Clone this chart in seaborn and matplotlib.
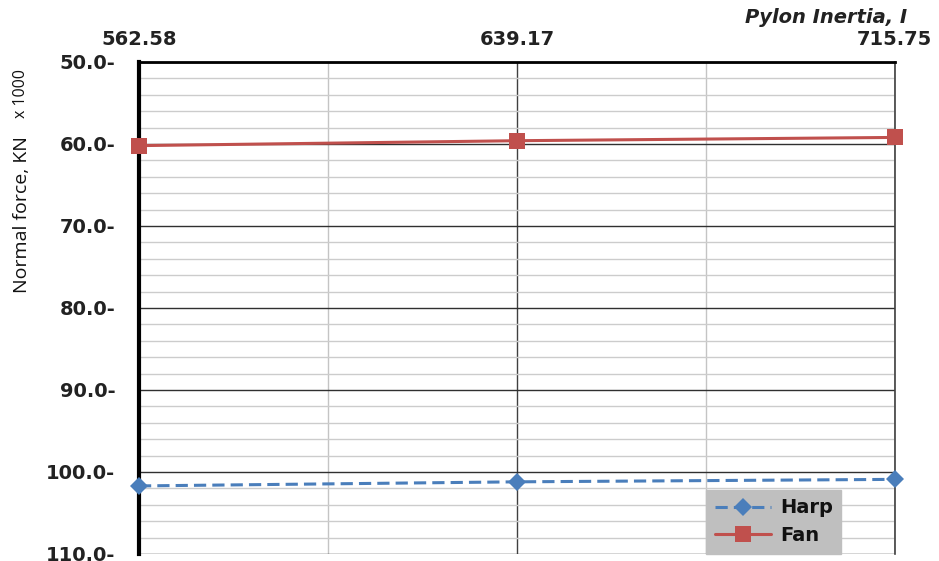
import numpy as np
import pandas as pd
import seaborn as sns
import matplotlib.pyplot as plt
from matplotlib.ticker import FixedLocator, MultipleLocator, FuncFormatter

# values (normal force in kN x1000)
inertia = [562.58, 639.17, 715.75]
harp = [101.7, 101.2, 100.9]
fan = [60.2, 59.6, 59.2]

harp_df = pd.DataFrame({'inertia': inertia, 'force': harp})
fan_df = pd.DataFrame({'inertia': inertia, 'force': fan})

sns.set_style('white')
plt.rcParams['font.family'] = ['DejaVu Sans']

fig = plt.figure(figsize=(9.39, 5.61), dpi=100)
ax = fig.add_axes([0.148, 0.0125, 0.805, 0.877])

sns.lineplot(data=harp_df, x='inertia', y='force', color='#4a7ebb', marker='D',
             markersize=9, markeredgewidth=0, linewidth=2.2,
             label='Harp', ax=ax, zorder=5, clip_on=False)
sns.lineplot(data=fan_df, x='inertia', y='force', color='#c0504d', marker='s',
             markersize=11, markeredgewidth=0, linewidth=2.2,
             label='Fan', ax=ax, zorder=5, clip_on=False)
ax.lines[0].set_linestyle((0, (4, 2)))

ax.set_xlim(inertia[0], inertia[-1])
ax.set_ylim(110, 50)

# x axis on top
ax.xaxis.tick_top()
ax.xaxis.set_label_position('top')
ax.xaxis.set_major_locator(FixedLocator(inertia))
ax.xaxis.set_minor_locator(FixedLocator([(inertia[0] + inertia[1]) / 2,
                                         (inertia[1] + inertia[2]) / 2]))
ax.xaxis.set_major_formatter(FuncFormatter(lambda v, p: f'{v:.2f}'))
ax.tick_params(axis='x', which='both', length=0, pad=9, labelsize=14)
for t in ax.get_xticklabels():
    t.set_fontweight('bold')
    t.set_color('#222222')

ax.yaxis.set_major_locator(MultipleLocator(10))
ax.yaxis.set_minor_locator(MultipleLocator(2))
ax.yaxis.set_major_formatter(FuncFormatter(lambda v, p: f'{v:.1f}-'))
ax.tick_params(axis='y', which='major', length=0, pad=17, labelsize=14)
ax.tick_params(axis='y', which='minor', direction='in', length=6, width=2, color='black')
for t in ax.get_yticklabels():
    t.set_fontweight('bold')
    t.set_color('#222222')

ax.grid(which='minor', axis='y', color='#cccccc', linewidth=1)
ax.grid(which='major', axis='y', color='#303030', linewidth=1)
ax.grid(which='minor', axis='x', color='#c4c4c4', linewidth=1)
ax.grid(which='major', axis='x', color='#404040', linewidth=1)

ax.spines['left'].set_linewidth(3)
ax.spines['left'].set_color('black')
ax.spines['top'].set_linewidth(2)
ax.spines['top'].set_color('black')
ax.spines['right'].set_linewidth(1.2)
ax.spines['right'].set_color('#404040')
ax.spines['bottom'].set_visible(False)

ax.set_xlabel('')
ax.set_ylabel('')
fig.text(0.966, 0.968, 'Pylon Inertia, I', ha='right', va='center',
         fontsize=14, fontstyle='italic', fontweight='bold', color='#222222')
fig.text(0.023, 0.617, 'Normal force, KN', rotation=90, ha='center', va='center',
         fontsize=14, color='#111111', family=['Open Sans', 'DejaVu Sans'])
fig.text(0.022, 0.834, 'x 1000', rotation=90, ha='center', va='center',
         fontsize=11.5, color='#111111', family=['Open Sans', 'DejaVu Sans'])

leg = ax.legend(loc='lower left', bbox_to_anchor=(0.75, 0.0), borderaxespad=0,
                frameon=True, fontsize=14, handlelength=2.9, handletextpad=0.45,
                borderpad=0.45, labelspacing=0.45, fancybox=False)
leg.get_frame().set_facecolor('#bfbfbf')
leg.get_frame().set_edgecolor('#bfbfbf')
leg.get_frame().set_alpha(1)
for t in leg.get_texts():
    t.set_fontweight('bold')
    t.set_color('#111111')
leg.set_zorder(10)

fig.savefig('out.png', dpi=100)
